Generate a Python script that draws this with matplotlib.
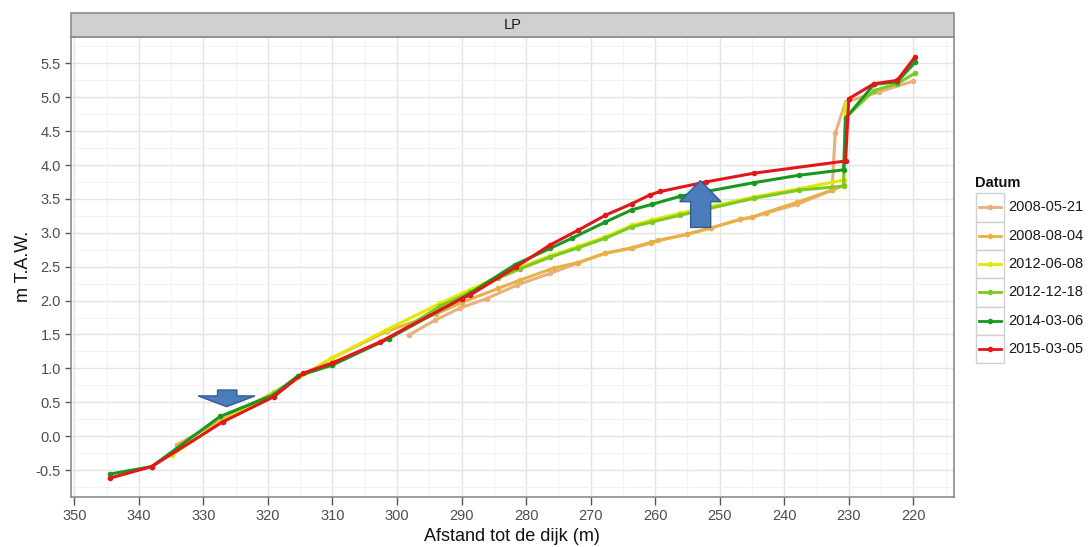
import matplotlib
matplotlib.use("Agg")
import matplotlib.pyplot as plt
from matplotlib.patches import Rectangle, Polygon
from matplotlib.lines import Line2D
import numpy as np

plt.rcParams['font.family'] = ['Liberation Sans', 'DejaVu Sans']

# ---------------- data ----------------
series_names = ["2008-05-21", "2008-08-04", "2012-06-08", "2012-12-18", "2014-03-06", "2015-03-05"]
series_colors = ["#E8B07C", "#E9B045", "#E3E800", "#7DC823", "#16991E", "#E3161B"]

x_20080521 = [298.2, 294.1, 290.2, 286.1, 281.4, 276.3, 272.1, 267.7, 263.6, 260.7, 259.5, 255.0,
              251.4, 246.8, 245.0, 242.9, 238.0, 232.6, 232.1, 230.5, 225.3, 220.0]
y_20080521 = [1.49, 1.71, 1.89, 2.03, 2.23, 2.40, 2.55, 2.70, 2.77, 2.85, 2.89, 2.98,
              3.07, 3.20, 3.23, 3.29, 3.42, 3.63, 4.47, 4.93, 5.08, 5.24]

x_20080804 = [334.1, 327.0, 319.0, 310.1, 301.5, 294.0, 290.0, 284.3, 281.0, 275.7, 272.0, 267.7,
              263.6, 260.7, 255.0, 251.4, 246.8, 245.0, 242.9, 238.0, 232.6, 230.8]
y_20080804 = [-0.13, 0.25, 0.65, 1.15, 1.55, 1.80, 1.97, 2.18, 2.30, 2.48, 2.56, 2.70,
              2.78, 2.86, 2.98, 3.07, 3.20, 3.23, 3.30, 3.45, 3.63, 3.70]

x_20120608 = [334.9, 327.0, 318.6, 310.1, 301.6, 293.3, 288.7, 284.3, 280.9, 276.3, 271.9, 267.7,
              263.6, 260.5, 256.1, 244.7, 237.7, 230.8, 230.5]
y_20120608 = [-0.28, 0.22, 0.66, 1.15, 1.57, 1.96, 2.16, 2.35, 2.49, 2.66, 2.80, 2.94,
              3.11, 3.19, 3.29, 3.53, 3.65, 3.78, 4.90]

x_20121218 = [319.1, 315.3, 310.1, 301.3, 293.3, 288.7, 284.3, 280.9, 276.3, 271.9, 267.7,
              263.6, 260.5, 256.1, 244.7, 237.7, 230.8, 230.5, 226.1, 222.5, 219.7]
y_20121218 = [0.62, 0.89, 1.05, 1.44, 1.92, 2.12, 2.33, 2.47, 2.64, 2.78, 2.92,
              3.09, 3.16, 3.26, 3.51, 3.63, 3.69, 4.70, 5.10, 5.20, 5.36]

x_20140306 = [344.5, 338.0, 327.4, 319.1, 315.3, 310.0, 301.3, 290.0, 281.7, 276.3, 272.9, 267.7,
              263.6, 260.5, 256.1, 244.7, 237.7, 230.8, 230.5, 226.1, 222.5, 219.7]
y_20140306 = [-0.56, -0.45, 0.29, 0.61, 0.89, 1.05, 1.44, 2.03, 2.53, 2.77, 2.92, 3.16,
              3.34, 3.42, 3.54, 3.74, 3.85, 3.93, 4.69, 5.19, 5.23, 5.52]

x_20150305 = [344.5, 338.0, 327.0, 319.1, 314.5, 310.0, 302.6, 290.0, 288.7, 281.5, 276.3, 271.9,
              267.7, 263.6, 260.8, 259.2, 252.2, 244.7, 230.5, 230.0, 226.1, 222.5, 219.7]
y_20150305 = [-0.62, -0.45, 0.21, 0.58, 0.93, 1.08, 1.39, 2.03, 2.08, 2.50, 2.82, 3.04,
              3.26, 3.43, 3.56, 3.61, 3.75, 3.88, 4.06, 4.98, 5.20, 5.25, 5.60]

series_x = [x_20080521, x_20080804, x_20120608, x_20121218, x_20140306, x_20150305]
series_y = [y_20080521, y_20080804, y_20120608, y_20121218, y_20140306, y_20150305]

x_ticks = [350, 340, 330, 320, 310, 300, 290, 280, 270, 260, 250, 240, 230, 220]
y_ticks = [-0.5, 0.0, 0.5, 1.0, 1.5, 2.0, 2.5, 3.0, 3.5, 4.0, 4.5, 5.0, 5.5]

# ---------------- figure ----------------
W, H = 1090, 547
fig = plt.figure(figsize=(W / 100, H / 100), dpi=100)
fig.patch.set_facecolor("white")

def fx(px):
    return px / W

def fy(py):
    return 1 - py / H

ax = fig.add_axes([fx(70.7), fy(496.7), fx(954) - fx(70.7), fy(37) - fy(496.7)])

# grid
ax.set_xticks(x_ticks)
ax.set_xticks([v - 5 for v in x_ticks], minor=True)
ax.set_yticks(y_ticks)
ax.set_yticks([v + 0.25 for v in y_ticks] + [-0.75], minor=True)
ax.set_xlim(350.55, 213.7)
ax.set_ylim(-0.894, 5.89)
ax.grid(which="major", color="#E3E3E3", linewidth=1.0)
ax.grid(which="minor", color="#F2F2F2", linewidth=0.8)
ax.set_axisbelow(True)
ax.tick_params(which="minor", length=0)
ax.tick_params(axis="x", which="major", length=5.5, width=1.0, color="#555555", labelsize=10.5,
               labelcolor="#4D4D4D", pad=3)
ax.tick_params(axis="y", which="major", length=4, width=1.0, color="#555555", labelsize=10.5,
               labelcolor="#4D4D4D", pad=3)
ax.set_yticklabels([f"{v:.1f}" for v in y_ticks])
ax.set_xticklabels([str(v) for v in x_ticks])
for s in ax.spines.values():
    s.set_color("#8C8C8C")
    s.set_linewidth(1.2)

# series
for xs, ys, c in zip(series_x, series_y, series_colors):
    ax.plot(xs, ys, color=c, linewidth=2.2, marker="o", markersize=4,
            markeredgewidth=0, solid_joinstyle="round", zorder=3)

# arrows (annotation shapes)
arrow_fc = "#4C7DBA"
arrow_ec = "#2E5C93"
down = Polygon([(327.8, 0.68), (324.8, 0.68), (324.8, 0.593), (322.0, 0.593),
                (326.4, 0.435), (330.8, 0.593), (327.8, 0.593)],
               closed=True, facecolor=arrow_fc, edgecolor=arrow_ec, linewidth=1.0, zorder=5)
up = Polygon([(254.5, 3.08), (251.4, 3.08), (251.4, 3.46), (249.8, 3.46),
              (253.0, 3.77), (256.2, 3.46), (254.5, 3.46)],
             closed=True, facecolor=arrow_fc, edgecolor=arrow_ec, linewidth=1.0, zorder=5)
ax.add_patch(down)
ax.add_patch(up)

# axis titles
ax.set_xlabel("Afstand tot de dijk (m)", fontsize=13, color="#111111", labelpad=4)
ax.set_ylabel("m T.A.W.", fontsize=13, color="#111111", labelpad=3)

# strip
strip = Rectangle((fx(70.7), fy(37)), fx(954) - fx(70.7), fy(13) - fy(37),
                  transform=fig.transFigure, facecolor="#D0D0D0", edgecolor="#8C8C8C",
                  linewidth=1.2, zorder=1)
fig.patches.append(strip)
fig.text((fx(70.7) + fx(954)) / 2, fy(25), "LP", ha="center", va="center", fontsize=10.5,
         color="#1A1A1A")

# legend (manual, ggplot style)
fig.text(fx(975), fy(183), "Datum", ha="left", va="center", fontsize=10.5, fontweight="bold",
         color="#111111")
key_top = 193.3
key_h = 28.3
for i, (name, c) in enumerate(zip(series_names, series_colors)):
    y0 = key_top + i * key_h
    r = Rectangle((fx(976), fy(y0 + key_h)), fx(1004) - fx(976), fy(y0) - fy(y0 + key_h),
                  transform=fig.transFigure, facecolor="white", edgecolor="#D0D0D0",
                  linewidth=1.0)
    fig.patches.append(r)
    yc = fy(y0 + key_h / 2)
    fig.add_artist(Line2D([fx(979), fx(1001)], [yc, yc], transform=fig.transFigure,
                          color=c, linewidth=2.0))
    fig.add_artist(Line2D([fx(990)], [yc], transform=fig.transFigure, color=c,
                          marker="o", markersize=4, markeredgewidth=0))
    fig.text(fx(1008), yc, name, ha="left", va="center", fontsize=10.5, color="#1A1A1A")

fig.savefig("out.png", dpi=100)
